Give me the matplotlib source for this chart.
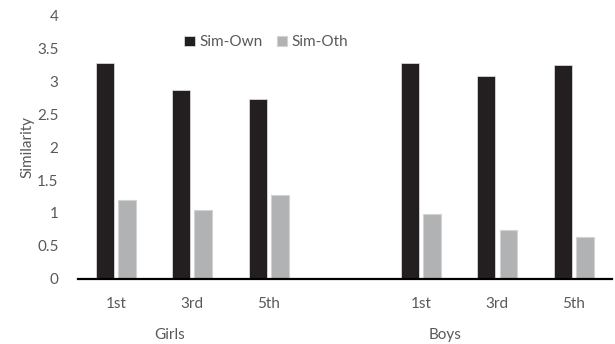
import matplotlib.pyplot as plt
import numpy as np

# Data
grades = ['1st', '3rd', '5th', '1st', '3rd', '5th']
groups = ['Girls', 'Boys']
positions = [0, 1, 2, 4, 5, 6]  # blank slot between the two groups
sim_own = [3.28, 2.87, 2.74, 3.28, 3.08, 3.26]
sim_oth = [1.19, 1.05, 1.27, 0.98, 0.74, 0.63]

plt.rcParams['font.family'] = ['Lato', 'DejaVu Sans']
text_color = '#595959'
fs = 11

fig = plt.figure(figsize=(6.15, 3.44), dpi=100)
ax = fig.add_axes([0.1268, 0.1904, 0.868, 0.7631])

x = np.array(positions)
w = 0.235
ax.bar(x - 0.145, sim_own, w, color='#231f20', edgecolor='#e6e6e6', linewidth=0.5, label='Sim-Own')
ax.bar(x + 0.145, sim_oth, w, color='#b1b2b4', edgecolor='#d2d3d5', linewidth=0.8, label='Sim-Oth')

ax.set_xlim(-0.5, 6.5)
ax.set_ylim(0, 4)
ax.set_yticks(np.arange(0, 4.01, 0.5))
ax.set_yticklabels(['0', '0.5', '1', '1.5', '2', '2.5', '3', '3.5', '4'])
ax.set_xticks(x)
ax.set_xticklabels(grades)
ax.tick_params(axis='both', length=0, labelsize=fs, colors=text_color)
ax.tick_params(axis='y', pad=14)
ax.tick_params(axis='x', pad=13)

for s in ['top', 'right', 'left']:
    ax.spines[s].set_visible(False)
ax.spines['bottom'].set_color('#000000')
ax.spines['bottom'].set_linewidth(1.6)

ax.set_ylabel('Similarity', fontsize=fs, color=text_color, labelpad=2)

# group labels under the grade labels
ax.text(0.171, -0.214, groups[0], transform=ax.transAxes, ha='center', va='center',
        fontsize=fs, color=text_color)
ax.text(0.688, -0.214, groups[1], transform=ax.transAxes, ha='center', va='center',
        fontsize=fs, color=text_color)

leg = ax.legend(loc='center', bbox_to_anchor=(0.353, 0.9), ncol=2, frameon=False,
                fontsize=fs, handlelength=0.7, handleheight=0.7, handletextpad=0.3,
                columnspacing=0.9, labelcolor=text_color)

fig.savefig('out.png', dpi=100)
